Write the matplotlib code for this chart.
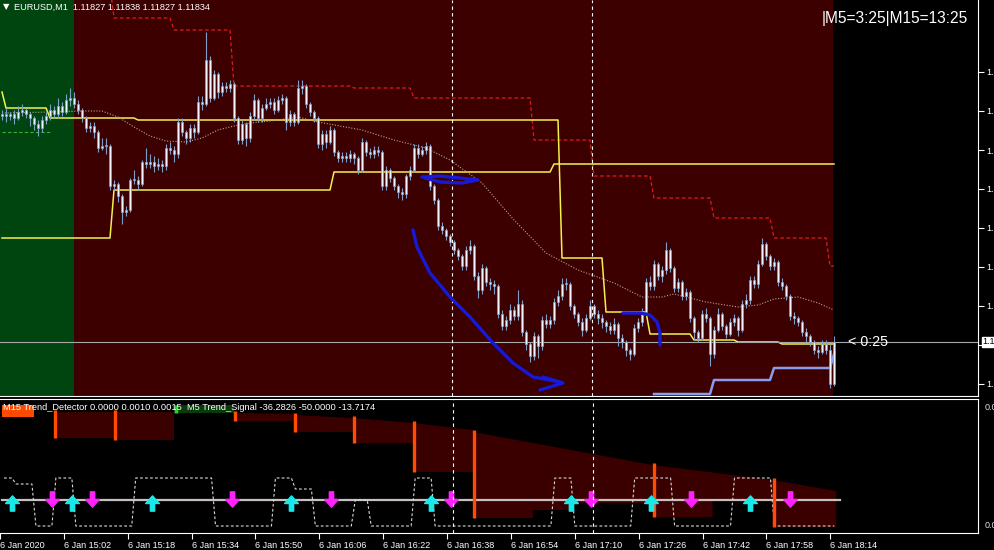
import numpy as np
import matplotlib.pyplot as plt
from matplotlib.path import Path

plt.rcParams['font.family'] = ['Liberation Sans', 'DejaVu Sans']

# EURUSD M1, bar 0 = 6 Jan 14:47; prices in points above 1.11700
first_open = 247
close_pts = [248, 247, 248, 246, 249, 250, 248, 246, 243, 241,
             245, 247, 250, 248, 252, 249, 255, 256, 253, 250,
             246, 241, 242, 239, 231, 232, 232, 212, 213, 207,
             199, 200, 215, 215, 213, 224, 223, 224, 222, 223,
             222, 231, 230, 228, 244, 239, 236, 241, 239, 254,
             253, 275, 256, 268, 259, 262, 261, 263, 246, 235,
             243, 236, 247, 255, 246, 251, 253, 254, 250, 255,
             256, 244, 248, 244, 261, 262, 253, 249, 246, 233,
             238, 234, 240, 229, 226, 227, 226, 228, 226, 220,
             234, 229, 228, 230, 229, 212, 220, 216, 212, 209,
             208, 217, 220, 231, 228, 230, 232, 212, 205, 192,
             190, 187, 184, 180, 177, 172, 180, 182, 167, 160,
             171, 164, 163, 162, 148, 142, 145, 150, 147, 153,
             139, 133, 127, 137, 132, 145, 143, 145, 154, 157,
             163, 163, 152, 148, 144, 140, 146, 152, 148, 146,
             144, 142, 140, 143, 136, 134, 130, 128, 141, 144,
             149, 164, 162, 173, 167, 170, 180, 171, 161, 164,
             157, 159, 146, 139, 136, 148, 146, 128, 140, 148,
             142, 138, 144, 146, 140, 153, 155, 165, 163, 173,
             183, 177, 172, 174, 164, 162, 157, 147, 146, 144,
             139, 137, 134, 130, 129, 133, 130, 113, 134]
high_pts = [250, 251, 249, 250, 252, 253, 251, 249, 247, 245,
            247, 249, 253, 252, 256, 254, 258, 261, 259, 255,
            251, 247, 244, 244, 240, 236, 236, 233, 215, 214,
            208, 202, 216, 220, 217, 225, 231, 228, 227, 226,
            225, 233, 234, 232, 246, 246, 240, 243, 243, 257,
            257, 289, 277, 270, 269, 264, 264, 265, 264, 247,
            245, 244, 249, 258, 256, 253, 256, 256, 256, 257,
            258, 257, 250, 249, 265, 265, 263, 254, 250, 247,
            240, 240, 242, 241, 230, 229, 229, 230, 229, 227,
            236, 235, 231, 232, 232, 230, 222, 221, 217, 213,
            211, 218, 222, 233, 233, 232, 234, 233, 213, 206,
            194, 191, 188, 185, 181, 178, 182, 185, 183, 169,
            173, 172, 166, 165, 163, 150, 147, 153, 152, 160,
            155, 140, 134, 139, 138, 147, 148, 147, 156, 160,
            166, 166, 164, 153, 149, 146, 148, 155, 153, 150,
            148, 145, 144, 146, 144, 138, 135, 131, 143, 146,
            151, 166, 167, 175, 174, 172, 184, 181, 172, 166,
            165, 161, 160, 147, 140, 150, 151, 147, 142, 151,
            149, 143, 146, 148, 147, 155, 158, 167, 167, 175,
            186, 184, 178, 176, 175, 166, 163, 158, 149, 147,
            145, 141, 138, 135, 132, 135, 135, 133, 137]
low_pts = [245, 244, 245, 243, 245, 247, 246, 242, 240, 237,
           239, 243, 245, 246, 246, 247, 248, 252, 251, 248,
           244, 239, 239, 236, 229, 230, 228, 210, 210, 204,
           193, 197, 199, 213, 210, 212, 221, 221, 219, 220,
           219, 220, 228, 224, 226, 237, 233, 234, 236, 238,
           250, 252, 254, 255, 256, 257, 259, 259, 244, 233,
           233, 232, 234, 245, 244, 244, 250, 251, 248, 249,
           253, 240, 242, 242, 243, 258, 251, 247, 244, 231,
           230, 231, 233, 227, 224, 224, 224, 224, 223, 218,
           219, 227, 226, 226, 227, 210, 210, 214, 210, 206,
           205, 206, 215, 219, 226, 227, 228, 210, 203, 190,
           188, 185, 182, 178, 175, 170, 170, 178, 165, 156,
           158, 162, 160, 158, 146, 140, 140, 143, 145, 145,
           137, 130, 124, 125, 126, 130, 141, 141, 143, 152,
           155, 160, 150, 146, 142, 137, 139, 145, 146, 143,
           141, 139, 138, 138, 132, 131, 127, 125, 127, 139,
           142, 148, 160, 160, 165, 164, 168, 169, 159, 159,
           155, 155, 144, 135, 134, 135, 144, 122, 126, 139,
           140, 136, 137, 142, 137, 139, 151, 153, 161, 161,
           172, 175, 170, 170, 162, 160, 155, 145, 143, 142,
           137, 134, 132, 128, 126, 128, 128, 111, 112]

# indicator lines: (first bar, level in points) held until the next step
red_steps = [(27, 312), (28, 296), (43, 290), (58, 262), (88, 261), (103, 256),
             (133, 235), (148, 217), (163, 206), (178, 196), (193, 186), (207, 172)]
yellow_a_steps = [(0, 259), (1, 251), (12, 246), (34, 245), (140, 176), (151, 149),
                  (162, 138), (173, 135), (184, 134), (195, 133)]
yellow_b_steps = [(0, 186), (28, 210), (83, 219), (138, 223)]
blue_steps = [(163, 108), (178, 115), (193, 121), (208, 128)]
green_steps = [(0, 239), (13, None)]
ma_bar = [0, 12, 20, 25, 29, 33, 37, 41, 46, 50, 54, 58, 62, 67, 74, 79, 90, 98, 106,
          112, 120, 128, 136, 144, 153, 160, 165, 168, 176, 184, 189, 193, 199, 204, 208]
ma_pts = [248.5, 249, 249.5, 249.5, 246.5, 241.5, 237, 234.5, 234, 236, 240, 242, 243.5,
          244.5, 246.5, 244, 240, 235, 231, 225, 213.5, 195, 178.5, 170, 163.5, 156.5,
          156.5, 158, 154, 151.5, 152.5, 155.5, 156.5, 153.5, 150]
bid_pts = 134
price_tick_pts = [269, 249.5, 230, 210.5, 191, 171.5, 152, 132.5, 113]
vlines_bar = [112.5, 147.5]

# hand drawn strokes (bar, points)
stroke1 = [(105, 216.5), (109.5, 217), (114.5, 216), (119, 215), (115, 213.5), (109.5, 214), (105.75, 216)]
stroke2 = [(102.75, 190), (103.75, 181.5), (107, 168.5), (112, 156.5), (117, 146.5),
           (122.75, 133.5), (127.75, 123.5), (132.75, 116.5), (139.5, 114)]
stroke2_head = [(135.25, 116.5), (140.25, 113.5), (134.5, 110)]
stroke3 = [(155.25, 148.5), (159.5, 148.5), (162, 147.5), (163.75, 144), (164.5, 138.5), (164.5, 132.5)]

# lower panel (units 1e-5)
hist_start = [13, 28, 58, 73, 88, 103, 118, 163, 193]
hist_end = [27, 42, 72, 87, 102, 117, 162, 192, 208]
hist_top0 = [121, 121, 120, 118, 115, 110, 101, 68, 53]
hist_top1 = [121, 121, 119, 115, 110, 103, 68, 53, 42]
hist_bottom_steps = [(13, 95), (28, 93), (58, 112), (73, 101), (88, 90), (103, 61),
                     (118, 15), (133, 23), (143, 30), (163, 16), (178, 33), (193, 6)]
signal_steps = [(0, 55), (3, 49), (8, 7), (13, 55), (18, 7), (33, 55), (53, 7), (68, 55),
                (73, 44), (78, 7), (88, 33), (92, 7), (103, 55), (108, 7), (138, 55),
                (143, 7), (158, 55), (168, 7), (183, 55), (193, 7)]
signal_zero = 33
up_bars = [2, 17, 37, 72, 107, 142, 162, 187]
down_bars = [12, 22, 57, 82, 112, 147, 172, 197]
time_ticks = [-1, 15, 31, 47, 63, 79, 95, 111, 127, 143, 159, 175, 191, 207]
time_labels = ['6 Jan 2020', '6 Jan 15:02', '6 Jan 15:18', '6 Jan 15:34', '6 Jan 15:50',
               '6 Jan 16:06', '6 Jan 16:22', '6 Jan 16:38', '6 Jan 16:54', '6 Jan 17:10',
               '6 Jan 17:26', '6 Jan 17:42', '6 Jan 17:58', '6 Jan 18:14']

base, pt = 1.117, 1e-5
n = len(close_pts)


def P(v):
    return base + np.asarray(v, dtype=float) * pt


def expand(steps, last=n - 1):
    xs, ys = [], []
    for k, (s, v) in enumerate(steps):
        e = steps[k + 1][0] if k + 1 < len(steps) else last + 1
        if v is None:
            continue
        xs.extend(range(s, e))
        ys.extend([v] * (e - s))
    return np.array(xs), np.array(ys, dtype=float)


fig = plt.figure(figsize=(9.95, 5.5), dpi=100, facecolor='black')
ax = fig.add_axes([0, 154 / 550, 978 / 995, 396 / 550])
ax2 = fig.add_axes([0, 17 / 550, 978 / 995, 134 / 550])
for a in (ax, ax2):
    a.set_facecolor('black')
    a.set_xlim(-0.5, 244)
    for s in ('left', 'top'):
        a.spines[s].set_visible(False)
    for s in ('right', 'bottom'):
        a.spines[s].set_color('white')
ax2.spines['top'].set_visible(True)
ax2.spines['top'].set_color('white')
ax.set_ylim(P(107), P(305))
ax2.set_ylim(0, 134)

ax.axvspan(-0.5, 18, color='#00450f', lw=0, zorder=0)
ax.axvspan(18, 207.8, color='#3c0000', lw=0, zorder=0)

# candles
idx = np.arange(n)
c = np.array(close_pts, dtype=float)
o = np.r_[first_open, c[:-1]]
h = np.maximum(np.array(high_pts, dtype=float), np.maximum(o, c))
l = np.minimum(np.array(low_pts, dtype=float), np.minimum(o, c))
ax.vlines(idx, P(l), P(h), color='#7e9fca', lw=0.8, zorder=3)
body_lo = np.minimum(o, c)
body_h = np.maximum(np.abs(c - o), 0.6)
ax.bar(idx, body_h * pt, bottom=P(body_lo), width=0.62, color='#f2f5ff',
       edgecolor='#7e9fca', linewidth=0.5, zorder=4)

x, y = expand(red_steps)
ax.plot(x, P(y), color='#e01a1a', lw=0.9, ls=(0, (3, 2)), zorder=2)
x, y = expand(yellow_a_steps)
ax.plot(x, P(y), color='#f4f24a', lw=1.1, zorder=2)
x, y = expand(yellow_b_steps)
ax.plot(x, P(y), color='#f4f24a', lw=1.1, zorder=2)
x, y = expand(blue_steps)
ax.plot(x, P(y), color='#8a9cf0', lw=1.8, zorder=2)
x, y = expand(green_steps)
ax.plot(x, P(y), color='#3cb040', lw=0.8, ls=(0, (3, 2)), zorder=2)
ax.plot(ma_bar, P(ma_pts), color='#b8a48e', lw=0.8, ls=(0, (1, 1.5)), zorder=2)
ax.axhline(P(bid_pts), color='#a8a8a8', lw=0.8, zorder=2)

for vb in vlines_bar:
    for a in (ax, ax2):
        a.axvline(vb, color='white', lw=0.8, ls=(0, (3, 3)), zorder=6)

for s in (stroke1, stroke2, stroke2_head, stroke3):
    sx, sy = zip(*s)
    ax.plot(sx, P(sy), color='#1818d8', lw=2.4, solid_capstyle='round',
            solid_joinstyle='round', zorder=7)

ax.set_xticks([])
ax.yaxis.tick_right()
ax.set_yticks(P(price_tick_pts))
ax.set_yticklabels(['%.5f' % v for v in P(price_tick_pts)])
ax.tick_params(axis='y', colors='white', length=4, labelsize=6.5, pad=2)
ytr = ax.get_yaxis_transform()
ax.text(1.0045, P(bid_pts), '%.5f' % P(bid_pts), transform=ytr, va='center', ha='left',
        fontsize=6.5, color='black', clip_on=False,
        bbox=dict(facecolor='white', edgecolor='white', pad=0.6), zorder=8)
ax.text(211.5, P(bid_pts), '< 0:25', color='white', fontsize=10.3, va='center', ha='left', zorder=8)

# lower panel
ax2.fill_between([-0.5, 7.5], 116, 128, color='#ff4a00', lw=0, zorder=1)
ax2.fill_between([42.5, 57.5], 120, 128, color='#083a0a', lw=0, zorder=1)
ax2.vlines(43, 120, 128, color='#28d028', lw=2.5, zorder=2)
bx, by = expand(hist_bottom_steps)
for s, e, t0, t1 in zip(hist_start, hist_end, hist_top0, hist_top1):
    sel = (bx >= s) & (bx <= e)
    xs = np.repeat(bx[sel], 2) + np.tile([-0.5, 0.5], sel.sum())
    bs = np.repeat(by[sel], 2)
    verts = [(s - 0.5, t0), (e + 0.5, t1)] + list(zip(xs[::-1], bs[::-1]))
    ax2.add_patch(plt.Polygon(verts, closed=True, color='#3a0000', lw=0, zorder=1))
    ax2.vlines(s - 0.2, by[sel][0], t0 + 2, color='#ff4c00', lw=2.4, zorder=3)
ax2.plot([-0.5, 209.5], [signal_zero, signal_zero], color='#c8c0c0', lw=1.6, zorder=2)
x, y = expand(signal_steps)
ax2.plot(x, y, color='#d8d8d8', lw=0.8, ls=(0, (2.5, 2)), zorder=2)

arrow_up = Path([(-0.14, -0.5), (0.14, -0.5), (0.14, 0.0), (0.45, 0.0), (0, 0.5),
                 (-0.45, 0.0), (-0.14, 0.0), (-0.14, -0.5)],
                [Path.MOVETO] + [Path.LINETO] * 6 + [Path.CLOSEPOLY])
arrow_down = Path([(x_, -y_) for x_, y_ in arrow_up.vertices], arrow_up.codes)
ax2.plot(up_bars, [30] * len(up_bars), ls='none', marker=arrow_up, ms=11,
         color='#18e8e8', mec='#18e8e8', zorder=5)
ax2.plot(down_bars, [34] * len(down_bars), ls='none', marker=arrow_down, ms=11,
         color='#ff22ff', mec='#ff22ff', zorder=5)

ax2.yaxis.tick_right()
ax2.set_yticks([127, 8])
ax2.set_yticklabels(['0.0015', '0.0000'])
ax2.tick_params(axis='y', colors='#dddddd', length=0, labelsize=6.5, pad=5)
ax2.set_xticks(time_ticks)
ax2.set_xticklabels(time_labels)
for lab in ax2.get_xticklabels():
    lab.set_ha('left')
ax2.tick_params(axis='x', colors='white', length=4, labelsize=6.5, pad=2)

fig.text(3 / 995, 1 - 7 / 550, '\u25bc', color='white', fontsize=6, va='center', ha='left',
         family='DejaVu Sans')
fig.text(14 / 995, 1 - 7 / 550, 'EURUSD,M1  1.11827 1.11838 1.11827 1.11834', color='white',
         fontsize=6.6, va='center', ha='left')
fig.text(822 / 995, 1 - 18 / 550, '|M5=3:25|M15=13:25', color='white', fontsize=11.2,
         va='center', ha='left')
fig.text(3 / 995, 1 - 407 / 550,
         'M15 Trend_Detector 0.0000 0.0010 0.0015  M5 Trend_Signal -36.2826 -50.0000 -13.7174',
         color='white', fontsize=6.7, va='center', ha='left')

fig.savefig('out.png', dpi=100, facecolor='black')
